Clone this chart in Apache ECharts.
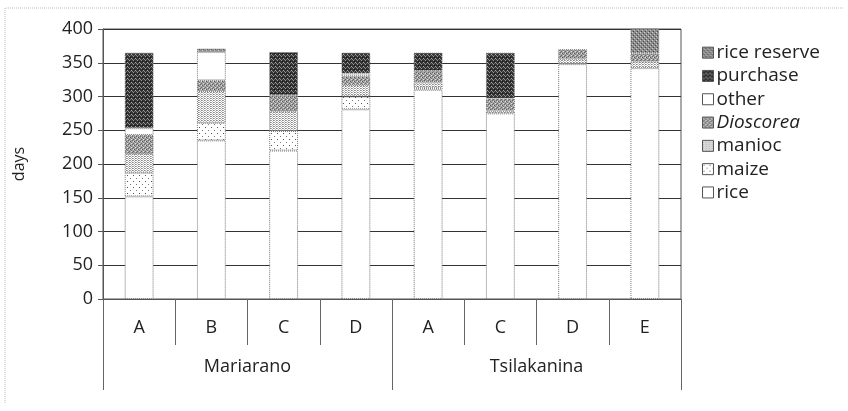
<!DOCTYPE html>
<html>
<head>
<meta charset="utf-8">
<script src="https://cdn.jsdelivr.net/npm/echarts@6/dist/echarts.min.js"></script>
<style>
html,body{margin:0;padding:0;background:#fff;}
#chart{width:848px;height:411px;}
</style>
</head>
<body>
<div id="chart"></div>
<script>
// ---- data ----
var categories = ['A', 'B', 'C', 'D', 'A', 'C', 'D', 'E'];
var groups = ['Mariarano', 'Tsilakanina'];
var yTicks = [0, 50, 100, 150, 200, 250, 300, 350, 400];
var rice        = [152, 235, 220, 281, 310, 275, 348, 342];
var maize       = [35, 26, 29, 19, 3, 0, 0, 0];
var manioc      = [28, 47, 29, 17, 8, 4, 8, 10];
var dioscorea   = [28, 16, 24, 13, 17, 18, 14, 12];
var other       = [10, 42, 0, 4, 0, 0, 0, 0];
var purchase    = [112, 0, 64, 31, 27, 68, 0, 0];
var riceReserve = [0, 5, 0, 0, 0, 0, 0, 38];

// ---- patterns ----
function pattern(w, h, bg, dots) {
  var c = document.createElement('canvas');
  c.width = w; c.height = h;
  var ctx = c.getContext('2d');
  ctx.fillStyle = bg; ctx.fillRect(0, 0, w, h);
  dots.forEach(function (d) { ctx.fillStyle = d[2]; ctx.fillRect(d[0], d[1], 1, 1); });
  return { image: c, repeat: 'repeat' };
}
var patRice = '#ffffff';
var patMaize = pattern(6, 6, '#ffffff', [[1, 1, '#555'], [4, 4, '#777']]);
var patManioc = pattern(3, 2, '#ffffff', [[0, 0, '#888'], [1, 0, '#aaa'], [2, 1, '#bbb']]);
var patDios = pattern(4, 4, '#a4a4a4', [[0, 0, '#666'], [2, 1, '#555'], [1, 3, '#666'], [3, 2, '#777'], [1, 1, '#ddd'], [3, 3, '#e0e0e0']]);
var patOther = '#ffffff';
var patPurchase = pattern(4, 4, '#333333', [[1, 0, '#999'], [3, 2, '#aaa'], [0, 3, '#888'], [2, 1, '#111'], [2, 3, '#666']]);
var patReserve = pattern(4, 4, '#8c8c8c', [[0, 0, '#cfcfcf'], [2, 2, '#c8c8c8'], [1, 3, '#444'], [3, 1, '#4a4a4a']]);

function clean(arr) { return arr.map(function (v) { return v === 0 ? null : v; }); }

var FONT = 'Open Sans';
var AX = 18;
var LG = 19;
function mk(name, data, color) {
  return {
    name: name, type: 'bar', stack: 'total', data: clean(data),
    barWidth: '40%',
    itemStyle: { color: color, borderColor: '#777', borderWidth: 1, borderType: 'dotted' },
    emphasis: { disabled: true }
  };
}

var chart = echarts.init(document.getElementById('chart'));
chart.setOption({
  animation: false,
  textStyle: { fontFamily: FONT },
  grid: { left: 103, right: 167, top: 29, bottom: 112, show: true, borderColor: '#555', borderWidth: 1, containLabel: false, outerBoundsMode: 'none' },
  legend: {
    orient: 'vertical', left: 697, top: 36,
    itemWidth: 11, itemHeight: 11, itemGap: 0,
    icon: 'rect',
    data: ['rice reserve', 'purchase', 'other', 'Dioscorea', 'manioc', 'maize', 'rice'],
    itemStyle: { borderColor: '#555', borderWidth: 1, borderType: 'solid' },
    textStyle: { fontFamily: FONT, fontSize: LG, color: '#222', lineHeight: 23.3, padding: [0, 0, 0, -2],
      rich: { i: { fontFamily: FONT, fontSize: LG, fontStyle: 'italic', color: '#222', lineHeight: 23.3 } } },
    formatter: function (n) { return n === 'Dioscorea' ? '{i|Dioscorea}' : n; }
  },
  xAxis: [{
    type: 'category', data: categories, position: 'bottom',
    axisLine: { show: true, lineStyle: { color: '#555', width: 1 } },
    axisTick: { show: true, interval: 0, length: 46, lineStyle: { color: '#666' } },
    axisLabel: { interval: 0, fontSize: AX, color: '#222', margin: 20 },
    splitLine: { show: false }
  }, {
    type: 'category', data: groups, position: 'bottom', offset: 0,
    axisLine: { show: false },
    axisTick: { show: true, interval: 0, length: 91, lineStyle: { color: '#666' } },
    axisLabel: { interval: 0, fontSize: AX, color: '#222', margin: 59 },
    splitLine: { show: false }
  }],
  yAxis: {
    type: 'value', min: yTicks[0], max: yTicks[yTicks.length - 1], interval: yTicks[1] - yTicks[0],
    name: 'days', nameLocation: 'middle', nameRotate: 90, nameGap: 76,
    nameTextStyle: { fontSize: 16, color: '#222' },
    axisLine: { show: true, lineStyle: { color: '#555' } },
    axisTick: { show: true, length: 5, lineStyle: { color: '#555' } },
    axisLabel: { fontSize: AX, color: '#222', margin: 10 },
    splitLine: { show: true, lineStyle: { color: '#333', width: 1 } }
  },
  graphic: [{
    type: 'polyline', silent: true,
    shape: { points: [[5, 403], [5, 8], [843, 8]] },
    style: { stroke: '#bbb', lineWidth: 1, lineDash: [1, 1], fill: null }
  }],
  series: [
    mk('rice', rice, patRice),
    mk('maize', maize, patMaize),
    mk('manioc', manioc, patManioc),
    mk('Dioscorea', dioscorea, patDios),
    mk('other', other, patOther),
    mk('purchase', purchase, patPurchase),
    mk('rice reserve', riceReserve, patReserve)
  ]
});
</script>
</body>
</html>
